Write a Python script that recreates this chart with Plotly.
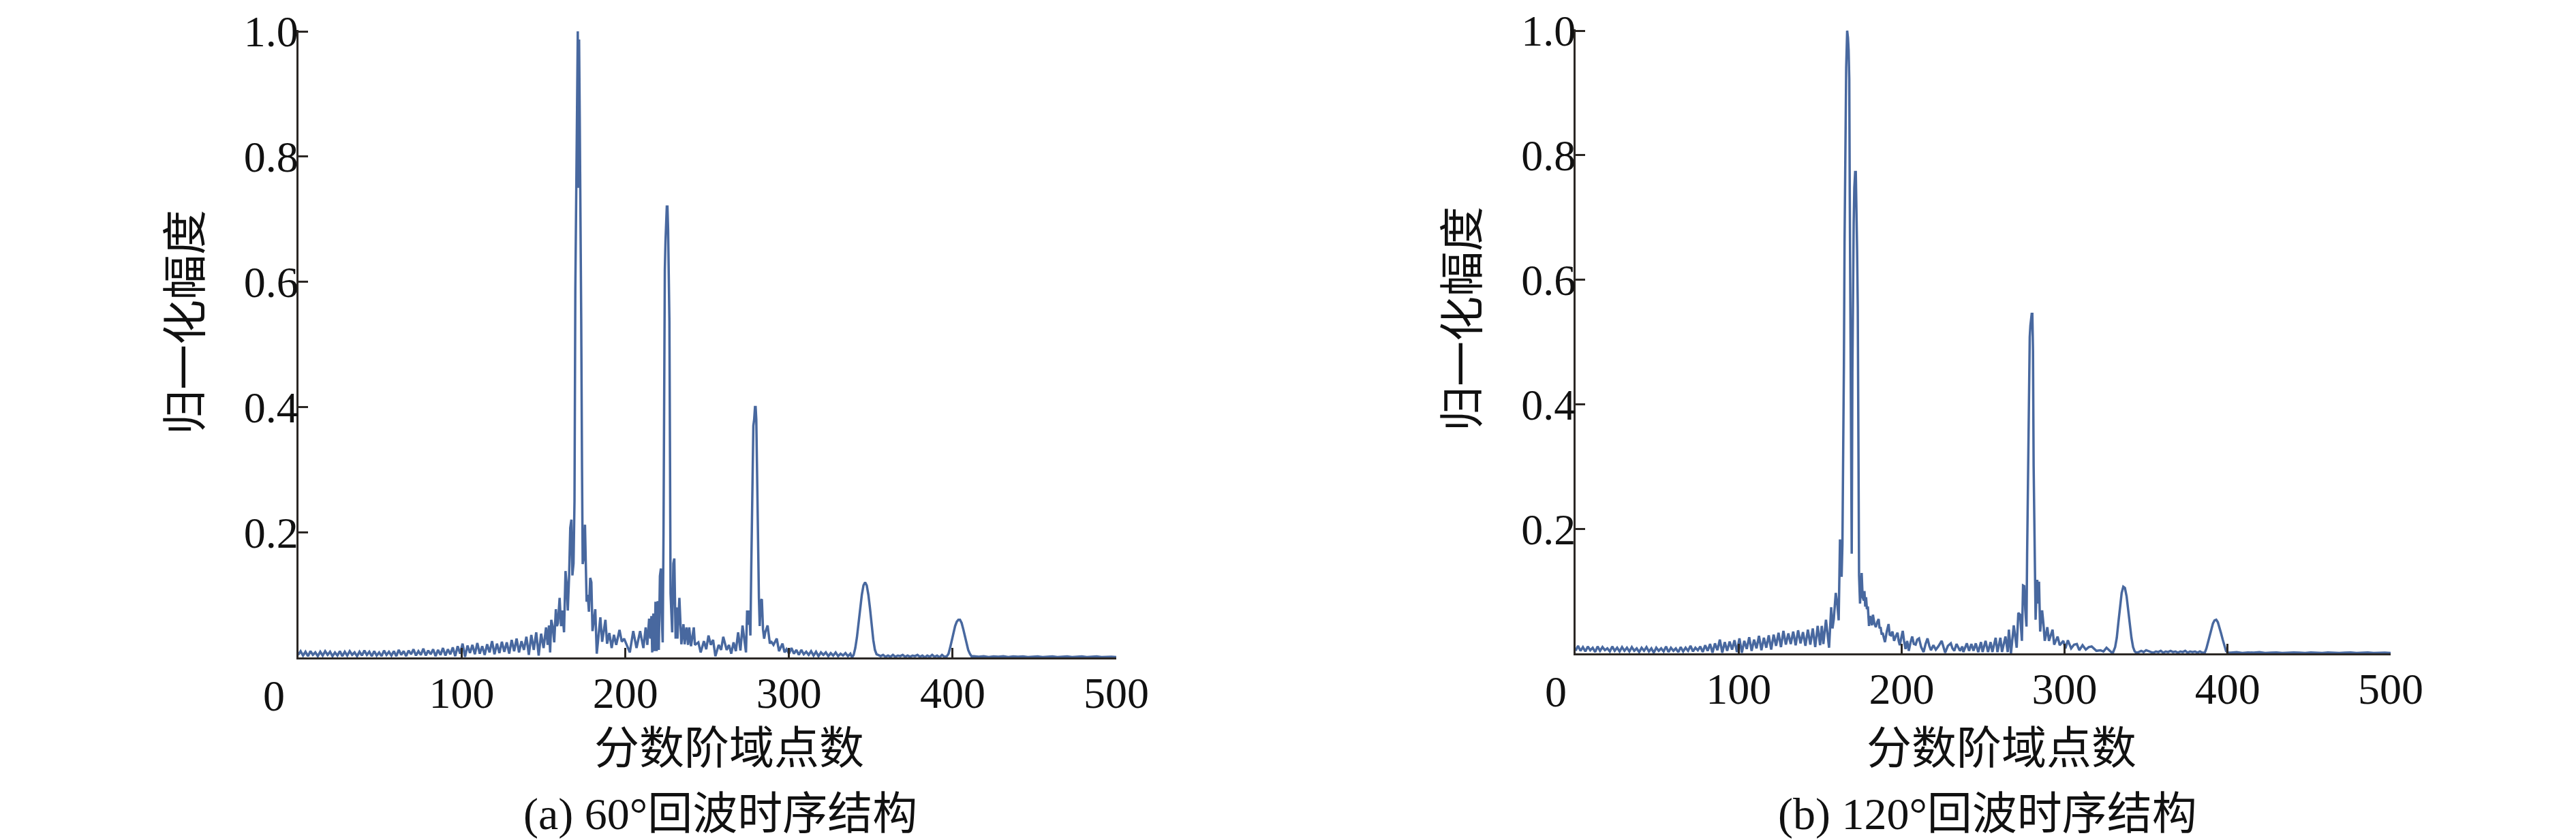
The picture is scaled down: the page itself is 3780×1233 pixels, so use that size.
import plotly.graph_objects as go

# ---------------- data ----------------
# (a) 60 deg : uniform baseline segment 0..150, step 1.5
A60_BASE = [0.004, 0.010, 0.003, 0.009, 0.002, 0.010, 0.004, 0.008, 0.002, 0.009, 0.003, 0.010, 0.004, 0.009, 0.002, 0.008, 0.003, 0.010, 0.002, 0.009, 0.003,
            0.010, 0.004, 0.008, 0.002, 0.009, 0.003, 0.011, 0.004, 0.009, 0.002, 0.010, 0.003, 0.008, 0.002, 0.011, 0.004, 0.009, 0.003, 0.010, 0.002,
            0.012, 0.004, 0.010, 0.002, 0.011, 0.005, 0.013, 0.003, 0.010, 0.004, 0.014, 0.003, 0.011, 0.005, 0.013, 0.002, 0.012, 0.004, 0.015, 0.003,
            0.013, 0.005, 0.016, 0.002, 0.018, 0.006, 0.022, 0.001, 0.019, 0.007, 0.020, 0.005, 0.023, 0.006, 0.018, 0.004, 0.021, 0.008, 0.026, 0.005,
            0.022, 0.007, 0.025, 0.009, 0.024, 0.006, 0.028, 0.010, 0.030, 0.008, 0.026, 0.012, 0.033, 0.004, 0.036, 0.012, 0.040, 0.003, 0.038, 0.015]
A60_PEAKS = [(151.5, 0.048), (152.5, 0.02), (153.3, 0.051), (154.0, 0.008), (154.7, 0.06), (155.5, 0.05), (156.5, 0.024), (157.5, 0.077),
             (158.2, 0.05), (158.8, 0.055), (159.8, 0.095), (160.7, 0.05), (161.5, 0.075), (162.5, 0.04), (163.4, 0.138), (164.0, 0.12),
             (164.8, 0.075), (165.6, 0.13), (166.3, 0.207), (167.0, 0.22), (167.6, 0.131), (168.3, 0.15), (168.9, 0.25), (169.4, 0.588),
             (169.9, 0.749), (170.4, 0.889), (170.9, 1.0), (171.3, 0.75), (171.7, 0.987), (172.1, 0.864), (172.6, 0.713), (173.0, 0.541),
             (173.5, 0.30), (173.9, 0.149), (174.6, 0.16), (175.3, 0.212), (175.8, 0.15), (176.3, 0.089), (177.0, 0.1), (177.7, 0.073),
             (178.5, 0.127), (179.2, 0.12), (179.9, 0.042), (180.8, 0.06), (181.6, 0.077), (182.5, 0.006), (183.6, 0.04), (184.7, 0.064),
             (185.8, 0.025), (186.9, 0.045), (187.8, 0.06), (188.8, 0.022), (190.2, 0.039), (191.6, 0.015), (193.0, 0.036), (194.4, 0.02),
             (196.4, 0.044), (197.8, 0.025), (199.2, 0.03), (200.8, 0.02), (202.7, 0.008), (204.8, 0.042), (206.8, 0.015), (209.0, 0.042),
             (211.0, 0.015), (212.4, 0.048), (213.4, 0.02), (214.5, 0.062), (215.3, 0.03), (215.9, 0.066), (216.4, 0.008), (217.1, 0.07),
             (217.8, 0.01), (218.4, 0.089), (219.1, 0.01), (219.8, 0.09), (220.4, 0.012), (221.1, 0.13), (221.7, 0.142), (222.3, 0.06),
             (222.8, 0.024), (223.3, 0.2), (223.7, 0.494), (224.1, 0.619), (224.5, 0.664), (224.9, 0.70), (225.3, 0.72), (225.7, 0.72),
             (226.1, 0.684), (226.5, 0.611), (226.9, 0.537), (227.3, 0.30), (227.6, 0.102), (228.6, 0.04), (229.3, 0.15), (229.9, 0.158),
             (230.7, 0.03), (231.2, 0.08), (231.8, 0.03), (233.0, 0.095), (234.2, 0.021), (235.5, 0.053), (236.2, 0.021), (237.3, 0.048),
             (238.3, 0.02), (239.0, 0.048), (240.1, 0.018), (241.8, 0.048), (242.5, 0.02), (244.6, 0.024), (246.0, 0.008), (248.0, 0.026),
             (249.4, 0.013), (250.8, 0.035), (252.2, 0.02), (253.6, 0.028), (255.0, 0.002), (257.0, 0.02), (258.5, 0.012), (259.8, 0.033),
             (261.9, 0.012), (263.3, 0.02), (264.7, 0.006), (266.1, 0.024), (267.5, 0.01), (268.9, 0.04), (270.3, 0.011), (271.6, 0.051),
             (273.7, 0.008), (274.4, 0.075), (275.1, 0.052), (275.8, 0.075), (276.4, 0.035), (276.9, 0.139), (277.3, 0.2), (277.7, 0.31),
             (278.2, 0.37), (278.7, 0.38), (279.2, 0.40), (279.6, 0.40), (280.0, 0.38), (280.4, 0.31), (280.8, 0.23), (281.2, 0.15),
             (281.6, 0.095), (282.1, 0.05), (282.7, 0.09), (283.4, 0.093), (284.1, 0.045), (284.8, 0.03), (285.5, 0.04), (286.9, 0.051),
             (288.3, 0.022), (289.0, 0.026), (290.5, 0.02), (292.5, 0.03), (293.9, 0.01), (296.0, 0.022), (297.3, 0.008)]
A60_DECAY = [0.013, 0.006, 0.015, 0.006, 0.012, 0.004, 0.012, 0.005, 0.009, 0.004, 0.010, 0.003, 0.009, 0.002,
             0.008, 0.004, 0.008, 0.002, 0.007, 0.003, 0.008, 0.002, 0.006, 0.003, 0.007, 0.002, 0.006]   # 298.5.., step 1.5
A60_BUMP1 = [(338.5, 0.0), (339.5, 0.004), (340.5, 0.015), (341.5, 0.032), (342.5, 0.055), (343.5, 0.08), (344.5, 0.1),
             (345.5, 0.115), (346.5, 0.12), (347.5, 0.115), (348.5, 0.1), (349.5, 0.078), (350.5, 0.052), (351.5, 0.028),
             (352.5, 0.012), (353.5, 0.005), (354.5, 0.004)]
A60_FLAT = [0.002, 0.004, 0.001, 0.003, 0.001, 0.004, 0.001, 0.003, 0.002, 0.004, 0.001, 0.003, 0.001, 0.003,
            0.002, 0.004, 0.001, 0.003, 0.0, 0.003, 0.001, 0.004, 0.001, 0.003, 0.0, 0.004, 0.001, 0.002]    # 356.., step 1.5
A60_BUMP2 = [(397.5, 0.006), (398.5, 0.016), (399.5, 0.028), (400.5, 0.04), (401.5, 0.05), (402.5, 0.057), (403.5, 0.06),
             (404.5, 0.06), (405.5, 0.055), (406.5, 0.045), (407.5, 0.034), (408.5, 0.022), (409.5, 0.012), (410.5, 0.006),
             (411.5, 0.002)]
A60_TAIL = [0.002, 0.001, 0.002, 0.0005, 0.0015, 0.001, 0.002, 0.0005, 0.0015, 0.001, 0.0015, 0.0005, 0.001, 0.0015, 0.0005,
            0.001, 0.0015, 0.0005, 0.001, 0.0015, 0.0005, 0.001, 0.0015, 0.0005, 0.001, 0.0015, 0.0005, 0.001, 0.001, 0.0005]  # 413.., step 3

# (b) 120 deg
B120_BASE = [0.004, 0.012, 0.004, 0.010, 0.003, 0.011, 0.005, 0.009, 0.002, 0.011, 0.004, 0.010, 0.005, 0.008, 0.003, 0.011, 0.004, 0.009, 0.003, 0.010, 0.004,
             0.009, 0.003, 0.010, 0.004, 0.008, 0.002, 0.009, 0.004, 0.010, 0.003, 0.008, 0.001, 0.009, 0.004, 0.008, 0.003, 0.011, 0.002, 0.009, 0.004,
             0.008, 0.002, 0.010, 0.003, 0.009, 0.004, 0.012, 0.003, 0.009, 0.005, 0.011, 0.002, 0.013, 0.004, 0.015, 0.001, 0.016, 0.005, 0.022, 0.001,
             0.018, 0.004, 0.019, 0.006, 0.021, 0.002, 0.024, 0.001, 0.020, 0.007, 0.026, 0.004, 0.022, 0.008, 0.028, 0.005, 0.025, 0.009, 0.029, 0.006,
             0.030, 0.012, 0.033, 0.010, 0.036, 0.014, 0.032, 0.015, 0.035, 0.013, 0.037, 0.016, 0.034, 0.012, 0.038, 0.014, 0.040, 0.010, 0.044, 0.013]
B120_PEAKS = [(151.0, 0.044), (152.0, 0.015), (153.6, 0.054), (154.6, 0.03), (155.5, 0.009), (156.8, 0.074), (157.6, 0.04), (158.4, 0.055),
              (159.6, 0.097), (160.5, 0.08), (161.4, 0.053), (162.2, 0.183), (162.7, 0.16), (163.2, 0.123), (163.7, 0.175), (164.2, 0.30),
              (164.6, 0.463), (165.0, 0.66), (165.5, 0.80), (166.0, 0.94), (166.6, 1.0), (167.1, 0.989), (167.5, 0.969), (167.9, 0.922),
              (168.2, 0.735), (168.6, 0.548), (169.0, 0.30), (169.4, 0.16), (169.8, 0.45), (170.2, 0.633), (170.6, 0.691), (171.0, 0.748),
              (171.5, 0.773), (171.9, 0.773), (172.3, 0.726), (172.7, 0.648), (173.1, 0.557), (173.5, 0.30), (173.9, 0.125), (174.5, 0.08),
              (175.0, 0.11), (175.5, 0.129), (176.1, 0.09), (176.8, 0.085), (177.2, 0.1), (177.7, 0.075), (178.2, 0.09), (178.7, 0.071),
              (179.3, 0.075), (180.0, 0.044), (180.6, 0.06), (181.2, 0.055), (181.8, 0.045), (182.4, 0.062), (183.3, 0.048), (184.2, 0.042),
              (185.0, 0.05), (185.9, 0.055), (186.5, 0.04), (187.1, 0.042), (187.8, 0.03), (188.4, 0.033), (189.1, 0.025), (189.8, 0.018),
              (190.9, 0.035), (192.0, 0.047), (192.7, 0.03), (193.4, 0.029), (194.4, 0.035), (195.4, 0.02), (196.5, 0.028), (197.5, 0.033),
              (198.2, 0.02), (198.9, 0.013), (199.8, 0.025), (200.7, 0.036), (201.5, 0.02), (202.4, 0.007), (203.4, 0.02), (204.4, 0.004),
              (205.5, 0.018), (206.5, 0.027), (207.5, 0.015), (208.6, 0.014), (209.6, 0.022), (210.7, 0.024), (212.0, 0.01), (213.5, 0.002),
              (214.7, 0.015), (215.9, 0.024), (217.0, 0.012), (218.0, 0.005), (219.5, 0.013), (221.0, 0.006), (222.5, 0.011), (224.6, 0.02),
              (226.7, 0.001), (228.4, 0.012), (230.2, 0.016), (231.2, 0.008), (232.3, 0.004), (233.7, 0.015), (235.8, 0.004), (237.2, 0.011),
              (237.9, 0.002), (240.0, 0.016), (241.4, 0.004), (242.8, 0.015), (244.1, 0.004), (245.5, 0.016), (247.0, 0.002), (248.7, 0.018),
              (249.7, 0.002), (251.5, 0.02), (253.0, 0.002), (254.6, 0.018), (255.7, 0.002), (257.7, 0.025), (258.8, 0.002), (260.6, 0.025),
              (261.6, 0.002), (263.7, 0.027), (265.1, 0.002), (265.8, 0.038), (267.1, 0.0), (268.8, 0.045), (270.6, 0.009), (271.6, 0.065),
              (272.7, 0.062), (273.8, 0.02), (274.5, 0.109), (275.2, 0.108), (275.9, 0.069), (276.6, 0.043), (277.0, 0.158), (277.5, 0.30),
              (278.2, 0.446), (278.6, 0.508), (279.0, 0.526), (279.4, 0.543), (279.8, 0.545), (280.2, 0.545), (280.6, 0.486), (281.0, 0.3),
              (281.3, 0.236), (281.7, 0.138), (282.2, 0.054), (282.8, 0.10), (283.2, 0.118), (283.8, 0.08), (284.3, 0.115), (285.0, 0.035),
              (285.6, 0.05), (286.2, 0.069), (287.0, 0.048), (287.8, 0.02), (288.6, 0.03), (289.4, 0.042), (290.4, 0.02), (291.5, 0.03),
              (292.6, 0.038), (293.6, 0.014), (294.6, 0.02), (295.7, 0.027), (297.0, 0.013), (298.1, 0.016), (299.2, 0.02), (300.5, 0.008),
              (302.0, 0.021), (304.0, 0.008), (305.8, 0.014), (307.5, 0.015), (309.0, 0.005), (311.0, 0.013), (313.0, 0.006), (314.8, 0.01),
              (316.6, 0.011), (319.5, 0.004), (322.0, 0.005), (323.8, 0.003), (325.7, 0.009), (328.6, 0.002)]
B120_BUMP1 = [(329.8, 0.002), (331.0, 0.01), (332.0, 0.025), (333.0, 0.05), (334.0, 0.075), (335.0, 0.097), (336.0, 0.107),
              (337.0, 0.105), (338.0, 0.092), (339.0, 0.07), (340.0, 0.045), (341.0, 0.025), (342.0, 0.01), (343.0, 0.003), (344.0, 0.001)]
B120_FLAT = [0.002, 0.004, 0.002, 0.005, 0.003, 0.002, 0.001, 0.003, 0.002, 0.004, 0.001, 0.003, 0.002, 0.004,
             0.002, 0.003, 0.001, 0.003, 0.002, 0.004, 0.001, 0.003, 0.002, 0.003, 0.001, 0.003, 0.001]   # 345.5.., step 1.5
B120_BUMP2 = [(386.0, 0.001), (387.0, 0.008), (388.0, 0.018), (389.0, 0.03), (390.0, 0.04), (391.0, 0.048), (392.0, 0.053),
              (393.0, 0.054), (394.0, 0.05), (395.0, 0.042), (396.0, 0.032), (397.0, 0.022), (398.0, 0.012), (399.0, 0.004), (400.0, 0.001)]
B120_TAIL = [0.001, 0.002, 0.0005, 0.0015, 0.001, 0.002, 0.0005, 0.001, 0.0015, 0.0005, 0.001, 0.0015, 0.001, 0.0005, 0.0015,
             0.001, 0.0005, 0.0015, 0.001, 0.0005, 0.001, 0.0015, 0.0005, 0.001, 0.0015, 0.0005, 0.001, 0.001, 0.0005]  # 402.., step 3.5

X_TICKS = [100, 200, 300, 400, 500]
Y_TICKS = [0.2, 0.4, 0.6, 0.8, 1.0]
Y_TICK_TEXT = ["0.2", "0.4", "0.6", "0.8", "1.0"]
X_TITLE = "分数阶域点数"
Y_TITLE = "归一化幅度"
CAPTIONS = ["(a) 60°回波时序结构", "(b) 120°回波时序结构"]


def seg(start, step, ys):
    return [(start + step * i, y) for i, y in enumerate(ys)]


a60 = (seg(0, 1.5, A60_BASE) + A60_PEAKS + seg(298.5, 1.5, A60_DECAY) + A60_BUMP1
       + seg(356, 1.5, A60_FLAT) + A60_BUMP2 + seg(413, 3, A60_TAIL))
b120 = (seg(0, 1.5, B120_BASE) + B120_PEAKS + B120_BUMP1 + seg(345.5, 1.5, B120_FLAT)
        + B120_BUMP2 + seg(402, 3.5, B120_TAIL))

# ---------------- figure ----------------
W, H = 3780, 1233
BLUE = "#48689f"
AXC = "#2b2724"
SERIF = "Liberation Serif, 'Noto Sans CJK SC', serif"
YTOP = 1.002  # tiny headroom so the 1.0 tick is inside the range

fig = go.Figure()
fig.add_trace(go.Scatter(x=[p[0] for p in a60], y=[p[1] for p in a60], mode="lines",
                         line=dict(color=BLUE, width=3.5), xaxis="x", yaxis="y", showlegend=False))
fig.add_trace(go.Scatter(x=[p[0] for p in b120], y=[p[1] for p in b120], mode="lines",
                         line=dict(color=BLUE, width=3.5), xaxis="x2", yaxis="y2", showlegend=False))

common = dict(showline=True, linecolor=AXC, linewidth=3, ticks="inside", ticklen=14, tickwidth=3,
              tickcolor=AXC, showgrid=False, zeroline=False, automargin=False, ticklabeloverflow="allow",
              tickfont=dict(family=SERIF, size=64, color="#111111"))


def px(v):
    return v / W


def py(v):
    return 1 - v / H


# plot areas in pixels: left x 429.5..1630, y(0)=957, y(1)=38 ; right x 2304..3500, y(0)=951, y(1)=37
L0, L1 = 957, 38
R0, R1 = 951, 37
L_TOP = L0 - YTOP * (L0 - L1)
R_TOP = R0 - YTOP * (R0 - R1)
fig.update_layout(
    template="none",
    width=W, height=H, margin=dict(l=0, r=0, t=0, b=0, pad=0, autoexpand=False),
    paper_bgcolor="white", plot_bgcolor="white",
    xaxis=dict(domain=[px(429.5), px(1630)], range=[0, 500], tickvals=X_TICKS, anchor="y",
               ticklabelstandoff=-6, **common),
    yaxis=dict(domain=[py(L0), py(L_TOP)], range=[0, YTOP], tickvals=Y_TICKS, ticktext=Y_TICK_TEXT, anchor="x",
               ticklabelstandoff=-16, **common),
    xaxis2=dict(domain=[px(2304), px(3500)], range=[0, 500], tickvals=X_TICKS, anchor="y2",
                ticklabelstandoff=-6, **common),
    yaxis2=dict(domain=[py(R0), py(R_TOP)], range=[0, YTOP], tickvals=Y_TICKS, ticktext=Y_TICK_TEXT, anchor="x2",
                ticklabelstandoff=-16, **common),
)

tf = dict(family=SERIF, size=66, color="#111111")
tick_font = dict(family=SERIF, size=64, color="#111111")
ann = []
# "0" origin labels (shifted left of the y axis as in the reference)
ann.append(dict(x=0, xref="x", y=py(1013), yref="paper", text="0", showarrow=False, xshift=-36,
                font=tick_font, xanchor="center", yanchor="middle"))
ann.append(dict(x=0, xref="x2", y=py(1007), yref="paper", text="0", showarrow=False, xshift=-29,
                font=tick_font, xanchor="center", yanchor="middle"))
# axis titles
ann.append(dict(x=px(264), y=py(465), xref="paper", yref="paper", text=Y_TITLE, textangle=-90,
                showarrow=False, font=tf, xanchor="center", yanchor="middle"))
ann.append(dict(x=px(2138), y=py(460), xref="paper", yref="paper", text=Y_TITLE, textangle=-90,
                showarrow=False, font=tf, xanchor="center", yanchor="middle"))
ann.append(dict(x=px(1062), y=py(1090), xref="paper", yref="paper", text=X_TITLE,
                showarrow=False, font=tf, xanchor="center", yanchor="middle"))
ann.append(dict(x=px(2929), y=py(1090), xref="paper", yref="paper", text=X_TITLE,
                showarrow=False, font=tf, xanchor="center", yanchor="middle"))
# captions
ann.append(dict(x=px(1049), y=py(1187), xref="paper", yref="paper", text=CAPTIONS[0],
                showarrow=False, font=tf, xanchor="center", yanchor="middle"))
ann.append(dict(x=px(2908), y=py(1187), xref="paper", yref="paper", text=CAPTIONS[1],
                showarrow=False, font=tf, xanchor="center", yanchor="middle"))
fig.update_layout(annotations=ann)

fig.write_html("out.html")
